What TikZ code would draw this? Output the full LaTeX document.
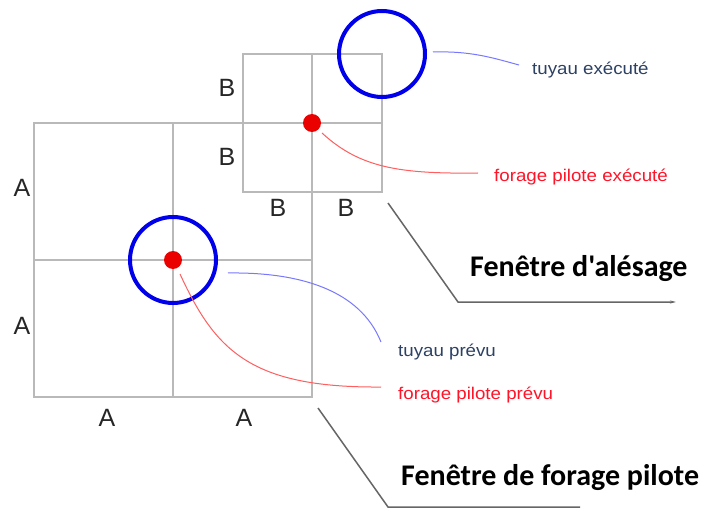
\documentclass[tikz,border=0pt]{standalone}
\usepackage{fontspec}
\setmainfont{Liberation Sans}
\newfontfamily\titlefont{Carlito}
\usetikzlibrary{arrows.meta}
\definecolor{gridgray}{RGB}{185,185,185}
\definecolor{pipeblue}{RGB}{0,0,235}
\definecolor{pilotred}{RGB}{235,0,0}
\definecolor{thinblue}{RGB}{120,120,255}
\definecolor{thinred}{RGB}{255,95,95}
\definecolor{slate}{RGB}{45,65,100}
\definecolor{labred}{RGB}{255,20,40}
\begin{document}
\begin{tikzpicture}[x=1pt,y=-1pt,
  gridline/.style={draw=gridgray, line width=1.4pt},
  pipe/.style={circle, draw=pipeblue, line width=4pt, minimum size=86pt, inner sep=0pt},
  pilot/.style={circle, fill=pilotred, minimum size=18pt, inner sep=0pt},
  dimlbl/.style={font=\fontsize{25}{25}\selectfont, text=black!85, inner sep=0pt},
  smalllbl/.style={font=\fontsize{17}{17}\selectfont, inner sep=0pt, anchor=west},
  titlelbl/.style={font=\titlefont\bfseries\fontsize{30}{30}\selectfont, inner sep=0pt, anchor=west},
  blueline/.style={draw=thinblue, line width=1pt},
  redline/.style={draw=thinred, line width=1pt},
  pointer/.style={draw=black!60, line width=1.5pt}]
\fill[white] (0,0) rectangle (705,508);
\useasboundingbox (0,0) rectangle (705,508);
% large grid (A)
\draw[gridline] (34,123) rectangle (312,397);
\draw[gridline] (173,123) -- (173,397);
\draw[gridline] (34,260) -- (312,260);
% small grid (B)
\draw[gridline] (243,54) rectangle (382,192);
\draw[gridline] (312,54) -- (312,192);
\draw[gridline] (243,123) -- (382,123);
% A labels
\node[dimlbl] (a1) at (22,188) {A};
\node[dimlbl] (a2) at (22,326) {A};
\node[dimlbl] (a3) at (107,418) {A};
\node[dimlbl] (a4) at (244,418) {A};
% B labels
\node[dimlbl] (b1) at (227,88) {B};
\node[dimlbl] (b2) at (227,157) {B};
\node[dimlbl] (b3) at (278,208) {B};
\node[dimlbl] (b4) at (346,208) {B};
% pipes and pilot holes
\node[pipe] (pipeP) at (173,260) {};
\node[pilot] (pilotP) at (173,260) {};
\node[pipe] (pipeE) at (382,54) {};
\node[pilot] (pilotE) at (312,123) {};
% labels
\node[smalllbl, text=slate] (tE) at (532,70) {\scalebox{1.1}[1]{tuyau exécuté}};
\node[smalllbl, text=labred] (fE) at (494,177) {\scalebox{1.1}[1]{forage pilote exécuté}};
\node[smalllbl, text=slate] (tP) at (398,352) {\scalebox{1.1}[1]{tuyau prévu}};
\node[smalllbl, text=labred] (fP) at (398,395) {\scalebox{1.1}[1]{forage pilote prévu}};
% connectors
\coordinate (tEs) at (433,52);
\coordinate (tEe) at (519,65);
\draw[blueline] (tEs) .. controls (470,51) and (490,57) .. (tEe);
\coordinate (fEs) at (322,133);
\coordinate (fEe) at (478,173);
\draw[redline] (fEs) .. controls (360,168) and (400,174) .. (fEe);
\coordinate (tPs) at (228,273);
\coordinate (tPe) at (381,342);
\draw[blueline] (tPs) .. controls (300,272) and (360,290) .. (tPe);
\coordinate (fPs) at (180,274);
\coordinate (fPe) at (381,387);
\draw[redline] (fPs) .. controls (215,350) and (250,388) .. (fPe);
% window pointers
\node[titlelbl] (wA) at (470,269) {Fenêtre d'alésage};
\node[titlelbl] (wF) at (401,478) {Fenêtre de forage pilote};
\coordinate (pA1) at (388,203);
\coordinate (pA2) at (458,302);
\coordinate (pA3) at (676,302);
\draw[pointer, -{Stealth[length=6pt,width=3pt]}] (pA1) -- (pA2) -- (pA3);
\coordinate (pF1) at (318,408);
\coordinate (pF2) at (388,507);
\coordinate (pF3) at (580,507);
\draw[pointer] (pF1) -- (pF2) -- (pF3);
\end{tikzpicture}
\end{document}
